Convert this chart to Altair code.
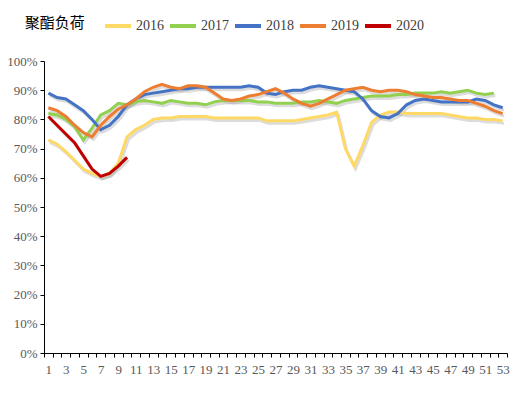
import altair as alt
import pandas as pd

weeks = list(range(1, 54))

y2016 = [73, 71.5, 69, 66, 63, 61.5, 60.5, 61.5, 65, 74, 76.5, 78, 80, 80.5, 80.5,
         81, 81, 81, 81, 80.5, 80.5, 80.5, 80.5, 80.5, 80.5, 79.5, 79.5, 79.5, 79.5, 80,
         80.5, 81, 81.5, 82.5, 70, 64, 71, 79, 81.5, 82.5, 82.5, 82, 82, 82, 82,
         82, 81.5, 81, 80.5, 80.5, 80, 80, 79.5]
y2017 = [82, 81.5, 80, 77.5, 73, 77, 81.5, 83, 85.5, 85, 86, 86.5, 86, 85.5, 86.5,
         86, 85.5, 85.5, 85, 86, 86.5, 86.5, 86.5, 86.5, 86, 86, 85.5, 85.5, 85.5, 86,
         86, 86.5, 86, 85.5, 86.5, 87, 87.5, 88, 88, 88, 88.5, 88.5, 89, 89, 89,
         89.5, 89, 89.5, 90, 89, 88.5, 89]
y2018 = [89, 87.5, 87, 85, 83, 80, 76.5, 78, 81, 85, 87, 88.5, 89, 89.5, 90,
         90.5, 90.5, 91, 91, 91, 91, 91, 91, 91.5, 91, 89, 88.5, 89.5, 90, 90,
         91, 91.5, 91, 90.5, 90, 89.5, 87, 83, 81, 80.5, 82, 85, 86.5, 87, 86.5,
         86, 86, 86, 86, 87, 86.5, 85, 84]
y2019 = [84, 83, 81, 78, 75.5, 74, 78, 81, 83.5, 85, 87, 89.5, 91, 92, 91,
         90.5, 91.5, 91.5, 91, 89, 87, 86.5, 87, 88, 88.5, 89.5, 90.5, 89, 87, 85.5,
         84.5, 85.5, 87, 88.5, 90, 90.5, 91, 90, 89.5, 90, 90, 89.5, 88.5, 88, 87.5,
         87.5, 87, 86.5, 86.5, 85.5, 84.5, 83, 82]
y2020 = [81, 78, 75, 72, 67.5, 63, 60.5, 61.5, 64, 67]

years = ["2016", "2017", "2018", "2019", "2020"]
colors = ["#FFD966", "#92D050", "#4472C4", "#ED7D31", "#C00000"]

rows = []
for yr, vals in zip(years, [y2016, y2017, y2018, y2019, y2020]):
    for w, v in zip(weeks, vals):
        rows.append({"week": w, "year": yr, "value": v / 100})
df = pd.DataFrame(rows)

serif = "Liberation Serif"

x_enc = alt.X("week:O", title=None, sort="ascending",
              axis=alt.Axis(labelAngle=0, labelOverlap=False, tickBand="extent",
                            labelExpr="datum.value % 2 == 1 ? datum.label : ''",
                            labelFont=serif, labelFontSize=13, labelColor="#595959",
                            domainColor="#000", tickColor="#000", tickSize=4,
                            labelPadding=6))
y_enc = alt.Y("value:Q", title=None,
              scale=alt.Scale(domain=[0, 1], nice=False),
              axis=alt.Axis(format=".0%", values=[i / 10 for i in range(11)],
                            grid=False, labelFont=serif, labelFontSize=13,
                            labelColor="#595959", domainColor="#000",
                            tickColor="#000", tickSize=4, labelPadding=3))

shadow = alt.Chart(df).mark_line(strokeWidth=3, color="#9a9a9a", opacity=0.35,
                                 xOffset=1.5, yOffset=2.5).encode(
    x=x_enc, y=y_enc, detail="year:N")

lines = alt.Chart(df).mark_line(strokeWidth=3).encode(
    x=x_enc, y=y_enc,
    color=alt.Color("year:N", scale=alt.Scale(domain=years, range=colors),
                    legend=alt.Legend(orient="none", direction="horizontal",
                                      legendX=59, legendY=-50, title=None,
                                      symbolType="stroke", symbolSize=676,
                                      symbolStrokeWidth=4, labelFont=serif,
                                      labelFontSize=14, labelColor="#404040",
                                      labelOffset=3, columnPadding=-2,
                                      gridAlign="none")))

chart = alt.layer(shadow, lines).properties(
    width=463, height=292,
    autosize=alt.AutoSizeParams(type="none"),
    padding={"left": 36, "top": 53, "right": 11, "bottom": 38},
    title=alt.TitleParams("聚酯负荷", anchor="start", dx=18, offset=0, dy=20,
                          font="Noto Sans CJK SC", fontSize=15,
                          fontWeight="normal", color="#000"),
).configure_view(stroke=None)

chart.save("out.html", embed_options={"renderer": "svg", "actions": False})
